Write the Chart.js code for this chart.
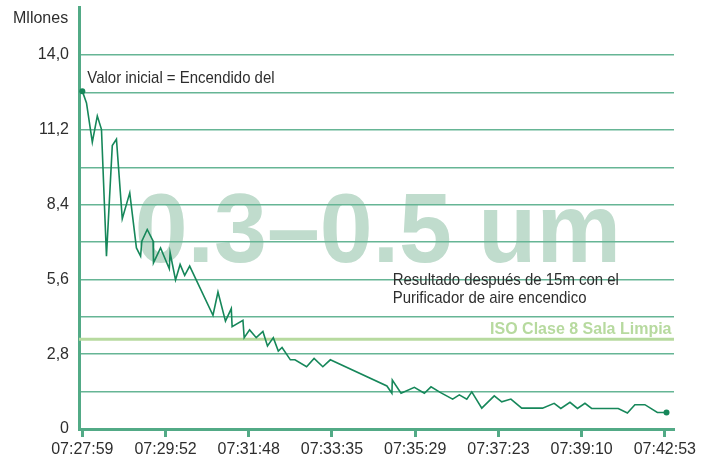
<!DOCTYPE html>
<html>
<head>
<meta charset="utf-8">
<script src="https://cdn.jsdelivr.net/npm/chart.js@4.4.0/dist/chart.umd.min.js"></script>
<style>
  html, body { margin: 0; padding: 0; background: #fff; }
  #wrap { width: 713px; height: 466px; }
</style>
</head>
<body>
<div id="wrap"><canvas id="chart" width="713" height="466"></canvas></div>
<script>
// time axis: labels sit at every 10 units of elapsed position
const timeLabels = ['07:27:59', '07:29:52', '07:31:48', '07:33:35', '07:35:29', '07:37:23', '07:39:10', '07:42:53'];

// particle count (millions)
const sampleX = [
    0, 0.5, 1.2, 1.8, 2.3, 2.9, 3.6, 4.1, 4.8, 5.7,
    6.5, 7.0, 7.15, 7.8, 8.5, 8.55, 9.4, 10.45, 10.55, 11.2,
    11.75, 12.3, 12.9, 15.7, 16.3, 17.2, 17.9, 18.0, 19.3, 19.45,
    20.1, 20.9, 21.7, 22.25, 22.95, 23.55, 24.0, 25.0, 25.55, 26.95,
    27.85, 28.9, 29.8, 36.6, 37.2, 37.25, 38.3, 39.9, 41.1, 41.9,
    43.0, 44.5, 45.3, 46.2, 46.8, 48.0, 49.5, 50.4, 51.5, 52.8,
    55.3, 56.7, 57.5, 58.6, 59.5, 60.4, 61.2, 64.4, 65.5, 66.4,
    67.6, 69.1, 70.2
];
const particles = [
    12.65, 12.21, 10.74, 11.72, 11.22, 6.47, 10.61, 10.85, 7.87, 8.84,
    6.78, 6.47, 7.03, 7.47, 7.04, 6.22, 6.78, 6.0, 6.6, 5.58,
    6.16, 5.75, 6.1, 4.26, 5.13, 4.04, 4.51, 3.83, 4.07, 3.42,
    3.71, 3.42, 3.65, 3.11, 3.42, 2.92, 3.05, 2.59, 2.59, 2.33,
    2.64, 2.33, 2.59, 1.61, 1.34, 1.83, 1.34, 1.56, 1.34, 1.58,
    1.37, 1.12, 1.28, 1.12, 1.39, 0.78, 1.24, 1.02, 1.12, 0.78,
    0.78, 0.96, 0.77, 1.0, 0.77, 0.96, 0.77, 0.77, 0.6, 0.91,
    0.91, 0.62, 0.62
];

const yTickValues = [0, 1.4, 2.8, 4.2, 5.6, 7.0, 8.4, 9.8, 11.2, 12.6, 14.0];
const yTickLabels = ['0', '', '2,8', '', '5,6', '', '8,4', '', '11,2', '', '14,0'];
const isoLimit = 3.36;

const lineColor = '#16875a';
const gridColor = '#66b595';
const axisColor = '#52aa86';
const isoColor = '#b7da9f';
const textColor = '#2e2e2e';

const points = sampleX.map((x, i) => ({ x: x, y: particles[i] }));
const lastIdx = points.length - 1;

// squeeze text horizontally to mimic the condensed face of the original
function narrowText(ctx, text, px, py, squeeze) {
    ctx.save();
    ctx.translate(px, py);
    ctx.scale(squeeze, 1);
    ctx.fillText(text, 0, 0);
    ctx.restore();
}

const annotations = {
    id: 'annotations',
    beforeDraw(chart) {
        const { ctx, scales: { x, y } } = chart;
        ctx.save();
        ctx.fillStyle = '#c0dccd';
        ctx.font = 'bold 98px "Liberation Sans", Arial, sans-serif';
        ctx.textBaseline = 'alphabetic';
        narrowText(ctx, '0.3\u20130.5 um', x.getPixelForValue(6.3), y.getPixelForValue(6.25), 0.97);
        ctx.restore();
    },
    afterDatasetsDraw(chart) {
        const { ctx, scales: { x, y } } = chart;
        ctx.save();
        ctx.textBaseline = 'alphabetic';
        ctx.fillStyle = textColor;
        ctx.font = '17px "Liberation Sans", Arial, sans-serif';
        narrowText(ctx, 'Valor inicial = Encendido del', x.getPixelForValue(0.6), y.getPixelForValue(12.95), 0.88);
        narrowText(ctx, 'Resultado después de 15m con el', x.getPixelForValue(37.3), y.getPixelForValue(5.38), 0.88);
        narrowText(ctx, 'Purificador de aire encendico', x.getPixelForValue(37.3), y.getPixelForValue(4.70), 0.88);

        ctx.fillStyle = isoColor;
        ctx.font = 'bold 16px "Liberation Sans", Arial, sans-serif';
        ctx.textAlign = 'right';
        ctx.fillText('ISO Clase 8 Sala Limpia', x.getPixelForValue(70.8), y.getPixelForValue(3.55));

        ctx.fillStyle = textColor;
        ctx.textAlign = 'left';
        ctx.font = '16px "Liberation Sans", Arial, sans-serif';
        ctx.fillText('Mllones', 13, 23);
        ctx.restore();
    }
};

new Chart(document.getElementById('chart'), {
    type: 'line',
    data: {
        datasets: [{
            label: 'Partículas',
            data: points,
            borderColor: lineColor,
            backgroundColor: lineColor,
            borderWidth: 1.6,
            tension: 0,
            pointRadius: ctx => (ctx.dataIndex === 0 || ctx.dataIndex === lastIdx) ? 3 : 0,
            pointBorderWidth: 0,
            order: 1
        }, {
            label: 'ISO Clase 8',
            data: [{ x: -0.4, y: isoLimit }, { x: 71.1, y: isoLimit }],
            borderColor: isoColor,
            borderWidth: 3,
            pointRadius: 0,
            order: 2
        }]
    },
    options: {
        responsive: false,
        animation: false,
        layout: {
            padding: { top: 7, right: 39, left: 0, bottom: 0 }
        },
        plugins: {
            legend: { display: false },
            tooltip: { enabled: false }
        },
        scales: {
            x: {
                type: 'linear',
                min: -0.4,
                max: 71.1,
                afterBuildTicks: scale => {
                    scale.ticks = timeLabels.map((_, i) => ({ value: i * 10 }));
                },
                afterFit: scale => {
                    scale.height = 37;
                    scale.paddingLeft = 0;
                    scale.paddingRight = 0;
                },
                ticks: {
                    callback: value => timeLabels[Math.round(value / 10)],
                    color: textColor,
                    font: { family: '"Liberation Sans", Arial, sans-serif', size: 16 },
                    padding: 3,
                    maxRotation: 0,
                    autoSkip: false
                },
                grid: {
                    drawOnChartArea: false,
                    drawTicks: true,
                    tickLength: 8,
                    tickWidth: 3,
                    tickColor: axisColor
                },
                border: { display: true, color: axisColor, width: 3 }
            },
            y: {
                min: 0,
                max: 15.8,
                afterBuildTicks: scale => {
                    scale.ticks = yTickValues.map(v => ({ value: v }));
                },
                afterFit: scale => {
                    scale.width = 79;
                    scale.paddingTop = 0;
                    scale.paddingBottom = 0;
                },
                ticks: {
                    callback: (value, index) => yTickLabels[index],
                    color: textColor,
                    font: { family: '"Liberation Sans", Arial, sans-serif', size: 16 },
                    padding: 10
                },
                grid: {
                    color: gridColor,
                    lineWidth: 1.5,
                    drawTicks: false
                },
                border: { display: true, color: axisColor, width: 3 }
            }
        }
    },
    plugins: [annotations]
});
</script>
</body>
</html>
